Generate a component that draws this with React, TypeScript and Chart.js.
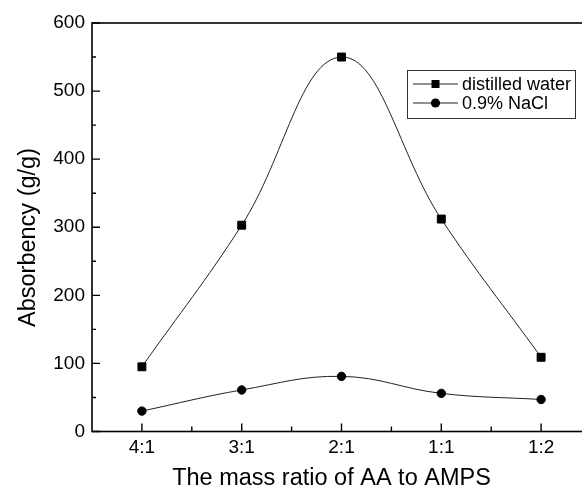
import React, { useEffect, useRef } from "react";
import { Chart, registerables } from "chart.js";

Chart.register(...registerables);

// ---- data ----
const categories = ["4:1", "3:1", "2:1", "1:1", "1:2"];
const distilledWater = [95, 303, 550, 312, 109];
const nacl = [30, 61, 81, 56, 47];
const seriesLabels = ["distilled water", "0.9% NaCl"];
const yMin = 0;
const yMax = 600;
const yStep = 100;
const xTitle = "The mass ratio of AA to AMPS";
const yTitle = "Absorbency (g/g)";

const FONT = 'Arial, "Liberation Sans", sans-serif';

const framePlugin = {
  id: "frameAndTitles",
  afterDraw(chart: any) {
    const { ctx, chartArea: a, scales } = chart;
    const xs = scales.x;
    const ys = scales.y;
    ctx.save();
    // frame
    ctx.strokeStyle = "#000";
    ctx.lineWidth = 1.6;
    ctx.strokeRect(a.left, a.top, a.right - a.left, a.bottom - a.top);
    // inward ticks
    ctx.lineWidth = 1.4;
    ctx.beginPath();
    const yPix = ys.ticks.map((t: any) => ys.getPixelForValue(t.value));
    yPix.forEach((py: number, i: number) => {
      ctx.moveTo(a.left, py);
      ctx.lineTo(a.left + 8, py);
      if (i < yPix.length - 1) {
        const pm = (py + yPix[i + 1]) / 2;
        ctx.moveTo(a.left, pm);
        ctx.lineTo(a.left + 4, pm);
      }
    });
    const xPix = xs.ticks.map((_t: any, i: number) => xs.getPixelForTick(i));
    xPix.forEach((px: number, i: number) => {
      ctx.moveTo(px, a.bottom);
      ctx.lineTo(px, a.bottom - 8);
      if (i < xPix.length - 1) {
        const pm = (px + xPix[i + 1]) / 2;
        ctx.moveTo(pm, a.bottom);
        ctx.lineTo(pm, a.bottom - 5);
      }
    });
    ctx.stroke();

    // axis titles
    ctx.fillStyle = "#000";
    ctx.font = `23.5px ${FONT}`;
    ctx.textAlign = "center";
    ctx.textBaseline = "alphabetic";
    ctx.fillText(xTitle, 331.5, 485);
    ctx.save();
    ctx.translate(34.5, 237.5);
    ctx.rotate(-Math.PI / 2);
    ctx.fillText(yTitle, 0, 0);
    ctx.restore();

    // legend
    const bx = 407, by = 70, bw = 168, bh = 48;
    ctx.fillStyle = "#fff";
    ctx.fillRect(bx, by, bw, bh);
    ctx.strokeStyle = "#333";
    ctx.lineWidth = 1;
    ctx.strokeRect(bx + 0.5, by + 0.5, bw, bh);
    const rows = [84, 103];
    chart.data.datasets.forEach((ds: any, i: number) => {
      const ry = rows[i];
      ctx.strokeStyle = ds.borderColor;
      ctx.lineWidth = 1;
      ctx.beginPath();
      ctx.moveTo(413, ry);
      ctx.lineTo(458, ry);
      ctx.stroke();
      ctx.fillStyle = ds.pointBackgroundColor;
      ctx.beginPath();
      if (ds.pointStyle === "rect") {
        ctx.rect(435.5 - 4, ry - 4, 8, 8);
      } else {
        ctx.arc(435.5, ry, 4.6, 0, Math.PI * 2);
      }
      ctx.fill();
      ctx.fillStyle = "#000";
      ctx.font = `18px ${FONT}`;
      ctx.textAlign = "left";
      ctx.textBaseline = "middle";
      ctx.fillText(ds.label, 462, ry + 1);
    });
    ctx.restore();
  },
};

export default function App() {
  const ref = useRef<HTMLCanvasElement>(null);
  useEffect(() => {
    const chart = new Chart(ref.current as HTMLCanvasElement, {
      type: "line",
      data: {
        labels: categories,
        datasets: [
          {
            label: seriesLabels[0],
            data: distilledWater,
            borderColor: "#222",
            borderWidth: 1,
            pointStyle: "rect",
            pointRadius: 5.6,
            pointBackgroundColor: "#000",
            pointBorderColor: "#000",
            pointBorderWidth: 1,
            tension: 0.4,
            fill: false,
          },
          {
            label: seriesLabels[1],
            data: nacl,
            borderColor: "#222",
            borderWidth: 1,
            pointStyle: "circle",
            pointRadius: 4.2,
            pointBackgroundColor: "#000",
            pointBorderColor: "#000",
            pointBorderWidth: 1,
            tension: 0.4,
            fill: false,
          },
        ],
      },
      options: {
        responsive: false,
        animation: false,
        devicePixelRatio: 1,
        layout: { padding: { left: 0, top: 23, right: 29, bottom: 0 } },
        plugins: {
          legend: { display: false },
          tooltip: { enabled: false },
        },
        scales: {
          x: {
            type: "category",
            offset: true,
            grid: { display: false, drawTicks: false },
            border: { display: false },
            ticks: {
              color: "#000",
              font: { family: FONT, size: 19 },
              padding: 5,
              maxRotation: 0,
              autoSkip: false,
            },
            afterFit(s: any) {
              s.height = 55.5;
            },
          },
          y: {
            min: yMin,
            max: yMax,
            grid: { display: false, drawTicks: false },
            border: { display: false },
            ticks: {
              stepSize: yStep,
              color: "#000",
              font: { family: FONT, size: 19 },
              padding: 7,
            },
            afterFit(s: any) {
              s.width = 92;
            },
          },
        },
      },
      plugins: [framePlugin],
    } as any);
    return () => chart.destroy();
  }, []);
  return (
    <div
      style={{
        position: "fixed",
        left: 0,
        top: 0,
        width: 582,
        height: 487,
        overflow: "hidden",
        background: "#fff",
      }}
    >
      <canvas ref={ref} width={620} height={487} style={{ display: "block" }} />
    </div>
  );
}
